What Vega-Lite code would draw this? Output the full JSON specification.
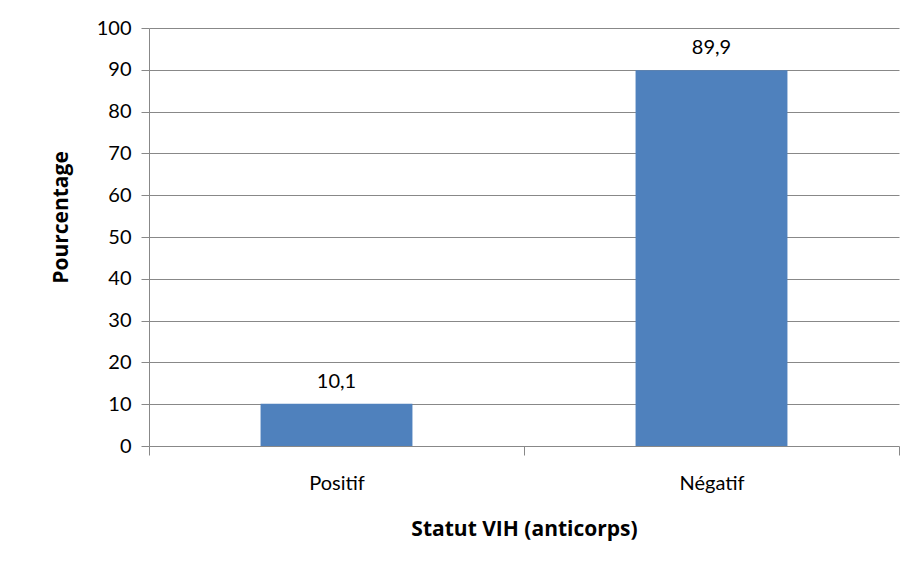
{
  "$schema": "https://vega.github.io/schema/vega-lite/v6.json",
  "autosize": {"type": "none"},
  "width": 750,
  "height": 418,
  "padding": {"left": 149, "top": 28, "right": 9, "bottom": 129},
  "background": "white",
  "config": {
    "view": {"stroke": null},
    "font": "Lato",
    "axis": {"labelFont": "Lato", "titleFont": "Open Sans"}
  },
  "data": {"values": [
    {"statut": "Positif", "pct": 10.1, "label": "10,1"},
    {"statut": "Négatif", "pct": 89.9, "label": "89,9"}
  ]},
  "encoding": {
    "x": {
      "field": "statut", "type": "nominal", "sort": null,
      "scale": {"paddingInner": 0, "paddingOuter": 0},
      "axis": {
        "title": "Statut VIH (anticorps)", "titleFontSize": 21, "titleFontWeight": "bold", "titleColor": "black", "titlePadding": 25,
        "labelAngle": 0, "labelFontSize": 20, "labelColor": "black", "labelPadding": 18,
        "domain": false, "ticks": true, "tickBand": "extent", "tickSize": 9, "tickColor": "#888888", "grid": false
      }
    },
    "y": {
      "field": "pct", "type": "quantitative",
      "scale": {"domain": [0, 100]},
      "axis": {
        "title": "Pourcentage", "titleFontSize": 21, "titleFontWeight": "bold", "titleColor": "black", "titlePadding": 25,
        "titleY": 189,
        "values": [0,10,20,30,40,50,60,70,80,90,100],
        "labelFontSize": 20, "labelColor": "black", "labelPadding": 10,
        "tickSize": 8, "tickColor": "#888888", "domainColor": "#888888",
        "grid": true, "gridColor": "#888888", "gridWidth": 1
      }
    }
  },
  "layer": [
    {"mark": {"type": "bar", "color": "#4F81BD", "width": {"band": 0.405}}},
    {"mark": {"type": "text", "baseline": "bottom", "dy": -12, "fontSize": 20, "font": "Lato", "color": "black"},
     "encoding": {"text": {"field": "label"}}}
  ]
}
